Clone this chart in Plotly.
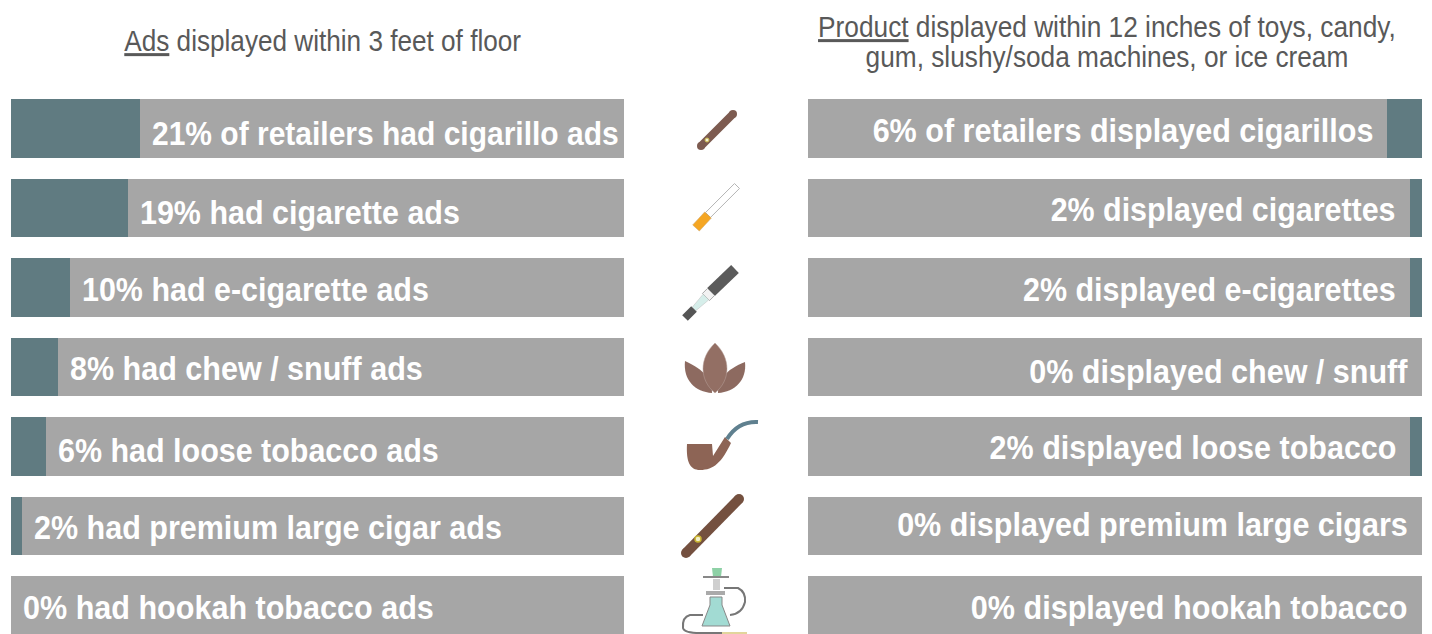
import json
import math
import plotly.graph_objects as go

W, H = 1432, 634
categories = ["cigarillo", "cigarette", "e-cigarette", "chew / snuff", "loose tobacco", "premium large cigar", "hookah tobacco"]
ads_values = [21, 19.1, 9.7, 7.6, 5.7, 1.8, 0]
product_values = [5.7, 1.9, 1.9, 0, 1.9, 0, 0]
ads_labels = ["21% of retailers had cigarillo ads", "19% had cigarette ads", "10% had e-cigarette ads",
              "8% had chew / snuff ads", "6% had loose tobacco ads", "2% had premium large cigar ads",
              "0% had hookah tobacco ads"]
product_labels = ["6% of retailers displayed cigarillos", "2% displayed cigarettes", "2% displayed e-cigarettes",
                  "0% displayed chew / snuff", "2% displayed loose tobacco", "0% displayed premium large cigars",
                  "0% displayed hookah tobacco"]

TEAL, GREY = "#607b81", "#a6a6a6"
FONT = "Liberation Sans"
rows = list(range(len(categories)))
y_range = [(H - 128.5) / 79.5, -128.5 / 79.5]

fig = go.Figure()
for xa, ya, vals in (("x", "y", ads_values), ("x2", "y2", product_values)):
    fig.add_bar(x=vals, y=rows, orientation="h", marker=dict(color=TEAL, line_width=0), width=0.742,
                xaxis=xa, yaxis=ya, showlegend=False, hoverinfo="skip")
    fig.add_bar(x=[100 - v for v in vals], y=rows, orientation="h", marker=dict(color=GREY, line_width=0), width=0.742,
                xaxis=xa, yaxis=ya, showlegend=False, hoverinfo="skip")

axis = dict(showgrid=False, zeroline=False, showticklabels=False, ticks="", showline=False, fixedrange=True)
fig.update_layout(
    width=W, height=H, autosize=False, barmode="stack", bargap=0,
    margin=dict(l=0, r=0, t=0, b=0), paper_bgcolor="white", plot_bgcolor="rgba(0,0,0,0)",
    xaxis=dict(domain=[11 / W, 624 / W], range=[0, 100], **axis),
    xaxis2=dict(domain=[808 / W, 1422 / W], range=[100, 0], anchor="y2", **axis),
    yaxis=dict(domain=[0, 1], range=y_range, **axis),
    yaxis2=dict(domain=[0, 1], range=y_range, anchor="x2", **axis),
)

# bar labels
ads_shift = [-4.5, -4, -1.5, -1, -3, -1, -1]
prod_shift = [-1.5, -1, -1, -4, 0, 2, -1]
for r, t, v, s in zip(rows, ads_labels, ads_values, ads_shift):
    fig.add_annotation(x=v, y=r, xref="x", yref="y", text=t, showarrow=False, xanchor="left", yanchor="middle",
                       align="left", xshift=10, yshift=s, font=dict(family=FONT, size=34, color="white", weight="bold"))
for r, t, v, s in zip(rows, product_labels, product_values, prod_shift):
    fig.add_annotation(x=v, y=r, xref="x2", yref="y2", text=t, showarrow=False, xanchor="right", yanchor="middle",
                       align="right", xshift=-12, yshift=s, font=dict(family=FONT, size=34, color="white", weight="bold"))

# headers
for cx, cy, t in ((322, 40, "<u>Ads</u> displayed within 3 feet of floor"),
                  (1107, 27, "<u>Product</u> displayed within 12 inches of toys, candy,"),
                  (1107, 56, "gum, slushy/soda machines, or ice cream")):
    fig.add_annotation(x=cx / W, y=1 - cy / H, xref="paper", yref="paper", text=t, showarrow=False,
                       xanchor="center", yanchor="middle", font=dict(family=FONT, size=30, color="#595959"))


# icons, drawn in pixel coordinates of the page
def P(x, y):
    return f"{x / W:.5f} {1 - y / H:.5f}"


def poly(points, fill, line=None, lw=0, close=True):
    d = "M " + " L ".join(P(*p) for p in points) + (" Z" if close else "")
    fig.add_shape(type="path", xref="paper", yref="paper", path=d,
                  fillcolor=fill if fill else "rgba(0,0,0,0)", line=dict(color=line or "rgba(0,0,0,0)", width=lw))


def curve(cmds, fill=None, line=None, lw=0):
    parts = []
    for c in cmds:
        if c == "Z":
            parts.append("Z")
        else:
            pts = c[1:]
            parts.append(c[0] + " " + " ".join(P(*p) for p in pts))
    fig.add_shape(type="path", xref="paper", yref="paper", path=" ".join(parts),
                  fillcolor=fill if fill else "rgba(0,0,0,0)", line=dict(color=line or "rgba(0,0,0,0)", width=lw))


def stick(x0, y0, x1, y1, w, fill, line=None, lw=0, w1=None):
    w1 = w if w1 is None else w1
    L = math.hypot(x1 - x0, y1 - y0)
    nx, ny = -(y1 - y0) / L, (x1 - x0) / L
    poly([(x0 + nx * w / 2, y0 + ny * w / 2), (x1 + nx * w1 / 2, y1 + ny * w1 / 2),
          (x1 - nx * w1 / 2, y1 - ny * w1 / 2), (x0 - nx * w / 2, y0 - ny * w / 2)], fill, line, lw)


def dot(cx, cy, r, fill, line=None, lw=0):
    fig.add_shape(type="circle", xref="paper", yref="paper", x0=(cx - r) / W, x1=(cx + r) / W,
                  y0=1 - (cy + r) / H, y1=1 - (cy - r) / H, fillcolor=fill, line=dict(color=line or fill, width=lw))


BROWN = "#7d5b50"
# cigarillo
stick(701, 146, 733, 114, 8, BROWN)
dot(733, 114, 4, BROWN)
dot(701, 146, 4, BROWN)
dot(707, 140, 2, "#f4f1d8", "#c9b84a", 1)
# cigarette
stick(737, 186, 708, 215, 7, "white", "#b5b5b5", 1)
stick(708, 215, 696, 228, 9, "#f5a623", "#c8a268", 0.5)
# e-cigarette
stick(735, 269, 711, 292, 11, "#5b5b5b")
stick(711, 292, 706, 297, 10, "#f2f2f2", "#aaaaaa", 1)
stick(706, 297, 694, 309, 8, "#d6eeea", "#bbbbbb", 0.5, 5)
stick(694, 309, 685, 318, 8, "#555555")
# chew leaves
LEAF = "#8d6a60"
curve([("M", (685, 361)), ("C", (683, 380), (695, 392), (712, 393)), ("C", (712, 380), (705, 370), (685, 361)), "Z"], LEAF)
curve([("M", (745, 362)), ("C", (747, 380), (735, 392), (718, 393)), ("C", (718, 380), (725, 370), (745, 362)), "Z"], LEAF)
curve([("M", (715, 343)), ("C", (699, 358), (699, 380), (715, 393)), ("C", (731, 380), (731, 358), (715, 343)), "Z"], "#936f64", "#b9a39c", 0.5)
# pipe
curve([("M", (687, 444)), ("L", (712, 444)), ("L", (713, 456)), ("L", (725, 437)), ("L", (731, 443)),
       ("C", (722, 462), (714, 470), (700, 470)), ("C", (690, 470), (686, 462), (687, 444)), "Z"], "#8d6455")
curve([("M", (727, 439)), ("Q", (738, 421), (758, 422))], None, "#5f808f", 4)
# premium large cigar
stick(686, 553, 739, 499, 10, "#74503f")
dot(739, 499, 5, "#74503f")
dot(686, 553, 5, "#74503f")
dot(698, 539, 3, "#f2efc8", "#c9b431", 1.5)
# hookah
poly([(712, 568), (722, 568), (721, 577), (713, 577)], "#8ed1a6")
poly([(703, 577), (729, 577)], None, "#888888", 2, close=False)
poly([(713, 579), (720, 579), (720, 590), (713, 590)], "#cfcfcf")
poly([(706, 593), (725, 593)], None, "#aaaaaa", 4, close=False)
poly([(710, 597), (722, 597), (722, 605), (730, 626), (702, 626), (710, 605)], "#a2dbd3", "#888888", 1)
curve([("M", (724, 588)), ("L", (738, 588)), ("Q", (746, 592), (745, 602)), ("Q", (742, 614), (730, 615))],
      None, "#777777", 2)
curve([("M", (703, 615)), ("L", (690, 615)), ("Q", (682, 617), (683, 628)), ("Q", (684, 633), (700, 633)), ("L", (722, 633))],
      None, "#777777", 2)
poly([(722, 633), (747, 633)], None, "#d9c77a", 1.5, close=False)

# The reference uses a condensed sans; no narrow face is installed, so squeeze the real text
# horizontally to the widths measured in the reference (annotation order).
text_widths = [467, 320, 347, 353, 381, 468, 411,
               501, 345, 373, 379, 407, 511, 437,
               397, 578, 483]
NARROW_JS = """
document.body.style.margin='0';
document.documentElement.style.overflow='hidden';
var widths=%s;
document.querySelectorAll('.annotation-text').forEach(function(t,i){
  var b=t.getBBox(), an=t.getAttribute('text-anchor')||t.style.textAnchor||'middle';
  var a= an==='start'? b.x : an==='end'? b.x+b.width : b.x+b.width/2;
  var s=widths[i]/b.width;
  t.setAttribute('transform','translate('+a+',0) scale('+s+',1) translate('+(-a)+',0)');
});
""" % json.dumps(text_widths)
fig.write_html("out.html", config={"displayModeBar": False}, post_script=NARROW_JS)
